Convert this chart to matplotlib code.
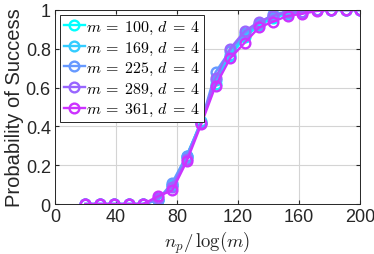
import numpy as np
import matplotlib
matplotlib.use("Agg")
import matplotlib.pyplot as plt
from matplotlib import cm

x = np.linspace(20, 200, 20)
labels = [r"$m\:=\:100,\,d\:=\:4$", r"$m\:=\:169,\,d\:=\:4$", r"$m\:=\:225,\,d\:=\:4$",
          r"$m\:=\:289,\,d\:=\:4$", r"$m\:=\:361,\,d\:=\:4$"]
zeros = [0, 0, 0, 0, 0]
ones = [1, 1, 1]
y100 = zeros + [0.02, 0.10, 0.25, 0.42, 0.62, 0.76, 0.86, 0.92, 0.96, 0.98, 0.99, 1.0] + ones
y169 = zeros + [0.02, 0.10, 0.24, 0.43, 0.64, 0.77, 0.87, 0.93, 0.97, 0.98, 0.99, 1.0] + ones
y225 = zeros + [0.02, 0.11, 0.25, 0.42, 0.68, 0.79, 0.88, 0.93, 0.98, 0.99, 0.99, 1.0] + ones
y289 = zeros + [0.03, 0.09, 0.23, 0.42, 0.65, 0.80, 0.89, 0.94, 0.97, 0.99, 0.99, 1.0] + ones
y361 = zeros + [0.04, 0.07, 0.22, 0.41, 0.61, 0.75, 0.83, 0.91, 0.94, 0.97, 0.98, 0.995] + ones
series = [y100, y169, y225, y289, y361]

plt.rcParams['font.family'] = ['Liberation Sans', 'DejaVu Sans']
plt.rcParams['mathtext.fontset'] = 'cm'

fig = plt.figure(figsize=(3.74, 2.55), dpi=100)
ax = fig.add_axes([0.147, 0.196, 0.816, 0.761])

colors = [cm.cool(v) for v in np.linspace(0, 0.8, 5)]
for ys, c, lab in zip(series, colors, labels):
    ax.plot(x, ys, '-o', color=c, lw=1.7, ms=7, mfc='none', mew=1.7, label=lab)

ax.set_xlim(0, 200)
ax.set_ylim(0, 1)
ax.set_xticks([0, 40, 80, 120, 160, 200])
ax.set_yticks([0, 0.2, 0.4, 0.6, 0.8, 1])
ax.set_yticklabels(['0', '0.2', '0.4', '0.6', '0.8', '1'])
ax.grid(True, color='#d4d4d4', lw=0.8)
ax.set_axisbelow(True)
ax.tick_params(direction='in', top=True, right=True, labelsize=13, colors='#262626',
               length=3, pad=3)
for s in ax.spines.values():
    s.set_color('#262626')
    s.set_linewidth(0.7)
ax.set_xlabel(r"$n_p/\,\log(m)$", fontsize=13.5, color='#262626', labelpad=2.5)
ax.set_ylabel("Probability of Success", fontsize=14.5, color='#262626', labelpad=1)
leg = ax.legend(loc='upper left', fontsize=11.5, fancybox=False, edgecolor='#262626',
                framealpha=1, handlelength=1.3, handletextpad=0.1, labelspacing=0.22,
                borderpad=0.25, borderaxespad=0.3)
leg.get_frame().set_linewidth(0.7)

fig.savefig("out.png", dpi=100)
